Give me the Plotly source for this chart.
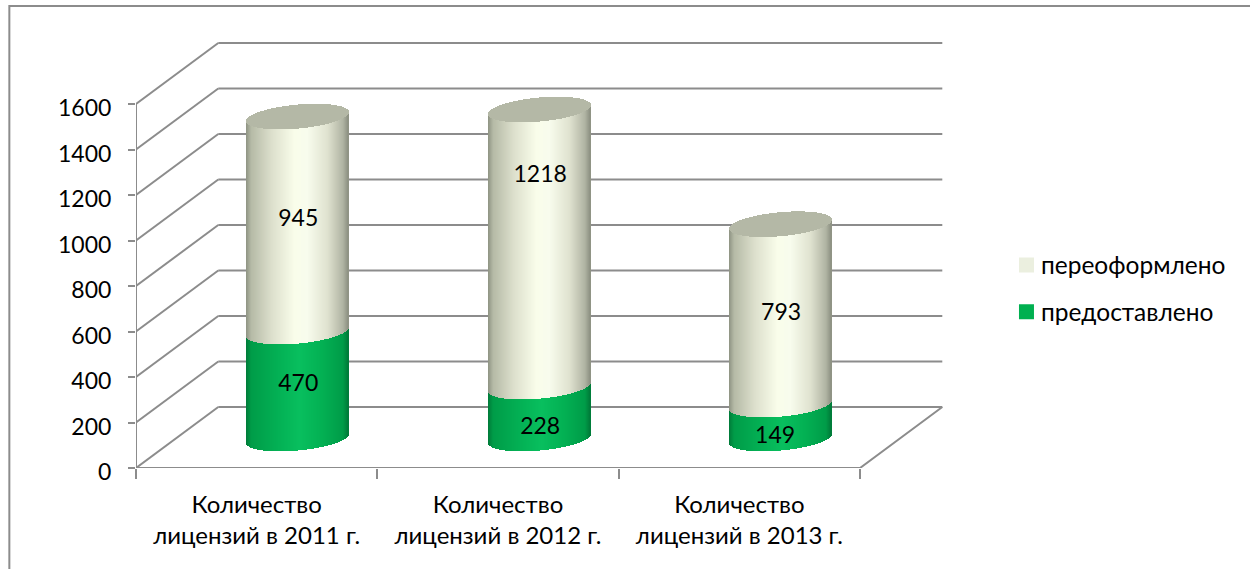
import math
import plotly.graph_objects as go

# ---- data ----
categories = ["Количество<br>лицензий в 2011 г.", "Количество<br>лицензий в 2012 г.", "Количество<br>лицензий в 2013 г."]
granted = [470, 228, 149]
reissued = [945, 1218, 793]
name_granted = "предоставлено"
name_reissued = "переоформлено"
y_ticks = [0, 200, 400, 600, 800, 1000, 1200, 1400, 1600]

# ---- styling / layout constants ----
W, H = 1250, 569
PX_Y = 0.2275              # px per value unit
PX_X = 241.43              # px per category
LEFT, RIGHT, TOP, BOTTOM = 135.7, 945, 40, 468
DEPTH_X = 82.3 / PX_X
DEPTH_Y = 61 / PX_Y
BAR_DX = 41.3 / PX_X
BASE = 29.5 / PX_Y
R_PX, B_PX, T_PX = 51, 12, 4.5
FONT = "Lato, 'Open Sans', sans-serif"
FS = 23
LINE = "#8c8c8c"
LW = 2
CAP = "#b4b8a6"
CREAM_STOPS = [(-1, "#8e9383"), (-.9, "#b5baa6"), (-.5, "#dcdfcc"), (-.05, "#f9fdea"), (.2, "#f8fced"), (.6, "#dfe2cf"), (.9, "#b0b4a3"), (1, "#8d9182")]
GREEN_STOPS = [(-1, "#007a38"), (-.9, "#009c48"), (-.3, "#04b356"), (.05, "#08bf5e"), (.5, "#03b053"), (.9, "#009c48"), (1, "#007a38")]
# label anchors in picture pixels (x, y) per bar
LABELS_GRANTED = [(298, 385), (540, 428), (775, 437)]
LABELS_REISSUED = [(298, 220), (540, 176), (781, 314)]


def hx(c):
    return tuple(int(c[i:i + 2], 16) for i in (1, 3, 5))


def grad(stops, d):
    for (a, ca), (b, cb) in zip(stops, stops[1:]):
        if d <= b:
            f = max(0, (d - a) / (b - a))
            p, q = hx(ca), hx(cb)
            return "rgb(%d,%d,%d)" % tuple(round(u + (v - u) * f) for u, v in zip(p, q))
    return stops[-1][1]


def x_of(px):
    return (px - LEFT) / PX_X - 0.5


def y_of(py):
    return (BOTTOM - py) / PX_Y


fig = go.Figure()

offsets = [p + 0.5 for p in range(-R_PX, R_PX)]
dxs = [p / R_PX for p in offsets]
half = [B_PX * math.sqrt(max(0, 1 - d * d)) / PX_Y for d in dxs]
tilt = [T_PX * d / PX_Y for d in dxs]


def strips(i, start, height, stops):
    c = i + BAR_DX
    xs = [c + p / PX_X for p in offsets]
    bases = [BASE + start + t - h for t, h in zip(tilt, half)]
    fig.add_bar(x=xs, y=[height] * len(xs), base=bases, width=1.4 / PX_X,
                marker=dict(color=[grad(stops, d) for d in dxs], line_width=0),
                showlegend=False, hoverinfo="skip")


for i in range(len(categories)):
    strips(i, 0, granted[i], GREEN_STOPS)
    strips(i, granted[i], reissued[i], CREAM_STOPS)
    c = i + BAR_DX
    top = granted[i] + reissued[i]
    fig.add_bar(x=[c + p / PX_X for p in offsets], y=[2 * h for h in half],
                base=[BASE + top + t - h for t, h in zip(tilt, half)], width=1.4 / PX_X,
                marker=dict(color=CAP, line_width=0), showlegend=False, hoverinfo="skip")

# frame lines that no cylinder crosses
lx, ly = [], []
n = len(categories)
for v in y_ticks:
    lx += [-0.5, -0.5 + DEPTH_X, None]
    ly += [v, v + DEPTH_Y, None]
lx += [-0.5, -0.5, None]
ly += [0, y_ticks[-1], None]
lx += [-0.5, n - 0.5, n - 0.5 + DEPTH_X, None]
ly += [0, 0, DEPTH_Y, None]
fig.add_scatter(x=lx, y=ly, mode="lines", line=dict(color=LINE, width=LW), cliponaxis=False,
                showlegend=False, hoverinfo="skip")

# back wall lines sit behind the cylinders
shapes = [dict(type="line", xref="x", yref="y", layer="below",
               x0=-0.5 + DEPTH_X, x1=n - 0.5 + DEPTH_X, y0=v + DEPTH_Y, y1=v + DEPTH_Y,
               line=dict(color=LINE, width=LW)) for v in y_ticks]
# outer chart border, runs off the page on the right and at the bottom
shapes.append(dict(type="rect", xref="paper", yref="paper",
                   x0=(9 - LEFT) / (RIGHT - LEFT), x1=(1300 - LEFT) / (RIGHT - LEFT),
                   y0=(BOTTOM - 620) / (BOTTOM - TOP), y1=(BOTTOM - 6) / (BOTTOM - TOP),
                   layer="below", line=dict(color=LINE, width=LW)))

# value labels
for vals, pos in ((granted, LABELS_GRANTED), (reissued, LABELS_REISSUED)):
    fig.add_scatter(x=[x_of(p[0]) for p in pos], y=[y_of(p[1]) for p in pos],
                    text=[str(v) for v in vals], mode="text", textposition="middle center",
                    textfont=dict(family=FONT, size=FS, color="black"), cliponaxis=False,
                    showlegend=False, hoverinfo="skip")

# legend entries
fig.add_scatter(x=[None], y=[None], mode="markers", name=name_reissued, legendgroup="a",
                marker=dict(symbol="square", size=15, color="#ebefdf"))
fig.add_scatter(x=[None], y=[None], mode="markers", name=name_granted, legendgroup="b",
                marker=dict(symbol="square", size=15, color="#00b050"))

fig.update_layout(
    width=W, height=H, barmode="overlay", bargap=0,
    paper_bgcolor="white", plot_bgcolor="rgba(0,0,0,0)",
    margin=dict(l=LEFT, r=W - RIGHT, t=TOP, b=H - BOTTOM, autoexpand=False),
    font=dict(family=FONT, size=FS, color="black"),
    shapes=shapes,
    legend=dict(x=(1001 - LEFT) / (RIGHT - LEFT), xanchor="left",
                y=(BOTTOM - 242.5) / (BOTTOM - TOP), yanchor="top",
                bgcolor="rgba(0,0,0,0)", itemwidth=30, tracegroupgap=12,
                font=dict(family=FONT, size=24.5, color="black")),
    xaxis=dict(range=[-0.5, n - 0.5 + (RIGHT - 860) / PX_X], tickmode="array",
               tickvals=list(range(n)), ticktext=categories, showgrid=False, zeroline=False,
               ticks="outside", ticklen=15, tickcolor="rgba(0,0,0,0)",
               tickfont=dict(family=FONT, size=24, color="black"),
               minor=dict(tickmode="array", tickvals=[k - 0.5 for k in range(n + 1)], ticks="outside",
                          ticklen=10, tickwidth=LW, tickcolor=LINE, showgrid=False)),
    yaxis=dict(range=[0, (BOTTOM - TOP) / PX_Y], tickmode="array", tickvals=y_ticks,
               showgrid=False, zeroline=False, ticks="outside", ticklen=7, tickwidth=LW,
               ticklabelstandoff=12, ticklabelshift=4,
               tickcolor=LINE, tickfont=dict(family=FONT, size=FS, color="black")),
)

fig.write_html("out.html", config={"displayModeBar": False},
               post_script="document.body.style.margin='0';document.body.style.overflow='hidden';"
                           "document.querySelectorAll('.legendsymbols').forEach(function(s){s.setAttribute('transform','translate(5.5,0)');});")
